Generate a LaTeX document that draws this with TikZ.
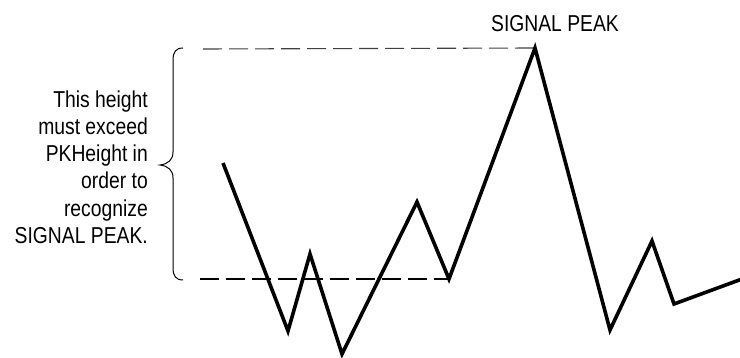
\documentclass[tikz,border=0pt]{standalone}
\usepackage{fontspec}
\setmainfont{Liberation Sans}
\newfontfamily\condfont[FakeStretch=0.84]{Liberation Sans}
\begin{document}
\begin{tikzpicture}[x=1pt,y=-1pt,
  lbl/.style={inner sep=0pt,font=\condfont\fontsize{23}{27.2}\selectfont},
  sig/.style={line width=3.6pt,line join=miter,miter limit=10},
  guide/.style={line width=1.1pt,dash pattern=on 19pt off 7pt},
  brc/.style={line width=1pt}]
\useasboundingbox (0,0) rectangle (740,358);
% signal points
\coordinate (s0) at (223,163);
\coordinate (s1) at (288,331);
\coordinate (s2) at (310,254);
\coordinate (s3) at (342,354);
\coordinate (s4) at (417,202);
\coordinate (s5) at (449,279);
\coordinate (s6) at (535,48);
\coordinate (s7) at (610,330);
\coordinate (s8) at (652,241);
\coordinate (s9) at (674,304);
\coordinate (s10) at (742,279);
% guide line start points
\coordinate (gt) at (203,49);
\coordinate (gb) at (200,279);
\draw[guide,black!75] (gt) -- (s6);
\draw[guide] (gb) -- (s5);
\draw[sig] (s0) -- (s1) -- (s2) -- (s3) -- (s4) -- (s5) -- (s6) -- (s7) -- (s8) -- (s9) -- (s10);
% brace
\draw[brc] (183,48) .. controls (176,48) and (173,52) .. (173,60)
  -- (173,152) .. controls (173,160) and (168,164) .. (160,165)
  .. controls (168,166) and (173,170) .. (173,178)
  -- (173,268) .. controls (173,276) and (176,280) .. (183,280);
\node[lbl,anchor=east,align=right] (note) at (148,167)
  {This height\\must exceed\\PKHeight in\\order to\\recognize\\SIGNAL PEAK.};
\node[lbl] (peak) at (555,24) {SIGNAL PEAK};
\end{tikzpicture}
\end{document}
